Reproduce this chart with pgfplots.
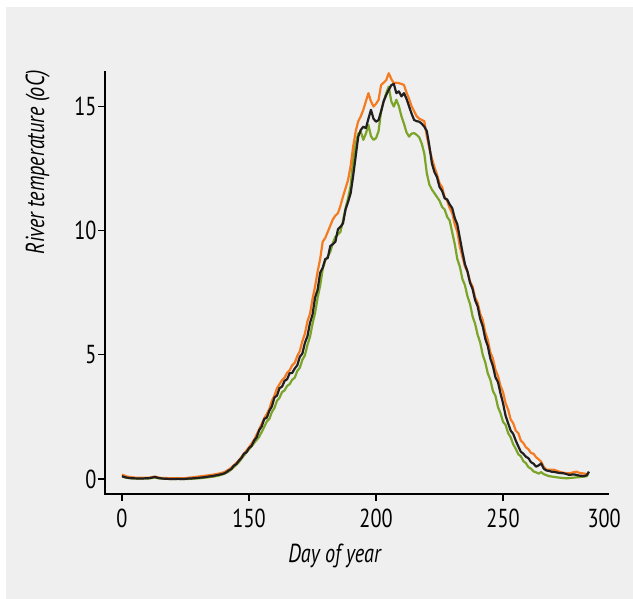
\documentclass[border=0pt]{standalone}
\usepackage{fontspec}
\setmainfont[FakeStretch=0.78]{PT Sans}
\usepackage{pgfplots}
\usepackage{pgfplotstable}
\pgfplotsset{compat=1.18}
\definecolor{bg}{HTML}{EFEFEF}
\definecolor{orng}{HTML}{F47B20}
\definecolor{grn}{HTML}{7BA428}
\definecolor{blk}{HTML}{231F20}
\newcommand{\lblfont}{\fontsize{26}{30}\selectfont}

\pgfplotstableread{
day T
100 0.12
101 0.08
103 0.04
105 0.03
107 0.02
109 0.03
111 0.04
113 0.09
114 0.05
116 0.02
118 0.01
120 0.0
122 0.01
124 0.0
126 0.02
128 0.03
130 0.05
132 0.07
134 0.10
136 0.13
138 0.17
140 0.22
141 0.27
142 0.35
143 0.40
144 0.54
145 0.60
146 0.74
147 0.85
148 1.02
149 1.08
150 1.25
151 1.33
152 1.55
153 1.68
154 1.97
155 2.12
156 2.42
157 2.47
158 2.75
159 2.92
160 3.28
161 3.36
162 3.66
163 3.72
164 3.95
165 4.02
166 4.26
167 4.27
168 4.45
169 4.58
170 4.92
171 5.05
172 5.48
173 5.75
174 6.28
175 6.62
176 7.30
177 7.62
178 8.30
179 8.50
180 8.85
181 8.90
182 9.38
183 9.45
184 9.55
185 10.05
186 10.15
187 10.29
188 10.85
189 11.15
190 11.5
191 12.2
192 13.0
193 13.78
194 14.05
195 14.18
196 14.12
197 14.5
198 14.86
199 14.5
200 14.38
201 14.45
202 14.8
203 15.2
204 15.45
205 15.66
206 15.85
207 15.9
208 15.53
209 15.6
210 15.4
211 15.53
212 15.3
213 15.0
214 14.7
215 14.45
216 14.4
217 14.38
218 14.3
219 14.18
220 14.0
221 13.4
222 12.7
223 12.35
224 12.15
225 11.75
226 11.6
227 11.3
228 11.25
229 11.05
230 10.9
231 10.5
232 10.25
233 9.7
234 9.15
235 8.65
236 8.35
237 7.9
238 7.65
239 7.2
240 6.95
241 6.45
242 6.15
243 5.65
244 5.35
245 4.85
246 4.55
247 4.1
248 3.9
249 3.45
250 3.05
251 2.55
252 2.25
253 1.95
254 1.82
255 1.55
256 1.32
257 1.1
258 1.02
259 0.9
260 0.84
261 0.68
262 0.62
263 0.5
264 0.55
265 0.63
266 0.42
267 0.35
268 0.33
269 0.30
270 0.29
272 0.25
274 0.23
276 0.17
278 0.19
280 0.14
282 0.12
283 0.16
283.8 0.3
}\blackdata

\pgfplotstableread{
day T
100 0.18
102 0.1
105 0.06
110 0.05
113 0.1
115 0.05
120 0.03
125 0.04
130 0.10
133 0.14
136 0.18
138 0.22
140 0.27
142 0.38
144 0.55
146 0.75
148 1.02
150 1.28
152 1.58
154 2.0
156 2.45
157 2.62
158 2.82
159 3.15
160 3.36
161 3.65
162 3.82
163 3.98
164 4.08
165 4.28
166 4.38
167 4.58
168 4.68
169 4.95
170 5.15
171 5.55
172 5.85
173 6.35
174 6.65
175 7.25
176 7.75
177 8.35
178 8.85
179 9.55
180 9.7
181 9.95
182 10.2
183 10.45
184 10.6
185 10.7
186 11.0
187 11.37
188 11.7
189 12.04
190 12.6
191 13.38
192 14.0
193 14.4
194 14.6
195 14.86
196 15.2
197 15.53
198 15.2
199 14.99
200 15.1
201 15.26
202 15.86
203 15.95
204 16.05
205 16.33
206 16.1
207 15.93
208 15.95
209 15.93
210 15.9
211 15.86
212 15.55
213 15.3
214 15.0
215 14.8
216 14.6
217 14.5
218 14.45
219 14.4
220 13.8
221 13.3
222 12.9
223 12.55
224 12.25
225 11.9
226 11.75
227 11.35
228 11.2
229 10.9
230 10.7
231 10.25
232 9.95
233 9.35
234 8.95
235 8.55
236 8.35
237 7.95
238 7.75
239 7.3
240 7.1
241 6.65
242 6.4
243 5.9
244 5.6
245 5.1
246 4.85
247 4.4
248 4.15
249 3.75
250 3.5
251 3.05
252 2.8
253 2.4
254 2.25
255 1.95
256 1.85
257 1.55
258 1.45
259 1.28
260 1.2
261 1.05
262 1.02
263 0.88
264 0.8
265 0.7
266 0.5
267 0.38
268 0.38
270 0.38
272 0.3
274 0.25
276 0.23
278 0.28
279 0.3
280 0.25
282 0.22
283 0.2
}\orangedata

\pgfplotstableread{
day T
100 0.1
102 0.05
105 0.02
110 0.02
113 0.06
115 0.02
120 0.0
125 0.0
130 0.03
133 0.06
136 0.1
138 0.14
140 0.2
142 0.3
144 0.48
146 0.68
148 0.95
150 1.2
152 1.45
154 1.7
156 2.1
157 2.32
158 2.42
159 2.7
160 2.86
161 3.15
162 3.27
163 3.5
164 3.57
165 3.75
166 3.82
167 4.0
168 4.08
169 4.35
170 4.48
171 4.8
172 4.98
173 5.4
174 5.72
175 6.25
176 6.68
177 7.3
178 7.78
179 8.45
180 8.8
181 8.95
182 9.15
183 9.5
184 9.75
185 9.85
186 9.95
187 10.4
188 10.9
189 11.3
190 11.8
191 12.84
192 13.5
193 13.9
194 13.98
195 13.65
196 13.9
197 14.25
198 13.8
199 13.65
200 13.72
201 14.0
202 14.8
203 15.2
204 15.53
205 15.79
206 15.2
207 14.99
208 15.26
209 15.0
210 14.6
211 14.3
212 13.95
213 13.78
214 13.9
215 13.92
216 13.85
217 13.75
218 13.5
219 13.1
220 12.3
221 11.85
222 11.65
223 11.5
224 11.35
225 11.2
226 10.95
227 10.85
228 10.55
229 10.4
230 9.92
231 9.45
232 8.85
233 8.55
234 8.05
235 7.8
236 7.35
237 7.05
238 6.55
239 6.25
240 5.8
241 5.5
242 5.0
243 4.7
244 4.25
245 4.0
246 3.55
247 3.35
248 2.9
249 2.65
250 2.3
251 2.18
252 1.85
253 1.68
254 1.4
255 1.22
256 1.0
257 0.92
258 0.72
259 0.64
260 0.48
261 0.42
262 0.31
263 0.27
264 0.22
265 0.28
266 0.2
268 0.12
270 0.09
272 0.06
275 0.03
278 0.06
281 0.09
283 0.12
283.8 0.29
}\greendata

\begin{document}
\begin{tikzpicture}
\useasboundingbox (0pt,0pt) rectangle (633pt,-599pt);
\fill[white] (0pt,0pt) rectangle (633pt,-599pt);
\fill[bg] (6pt,-7pt) rectangle (633pt,-599pt);
\begin{axis}[
  at={(105pt,-494pt)}, anchor=south west,
  scale only axis, width=502.7pt, height=422pt,
  xmin=93.3, xmax=291.2, ymin=-0.6, ymax=16.38,
  axis x line*=bottom, axis y line*=left,
  xtick pos=bottom, ytick pos=left,
  axis line style={line width=2.2pt, black, line cap=rect},
  tick align=outside, major tick length=7pt,
  tick style={line width=1.2pt, black},
  xtick={100,150,200,250}, xticklabels={0,150,200,250},
  extra x ticks={289.8}, extra x tick labels={300},
  extra x tick style={major tick style={draw=none}},
  ytick={0,5,10,15}, yticklabels={0,5,10,15},
  ticklabel style={font=\lblfont, text=black},
  xticklabel style={yshift=-4pt},
  yticklabel style={xshift=2pt},
  xlabel={Day of year}, ylabel={River temperature (oC)},
  xlabel style={font=\lblfont\itshape, at={(axis description cs:0.4565,-0.1635)}, anchor=base},
  ylabel style={font=\lblfont\itshape, at={(axis description cs:-0.1213,1.0118)}, anchor=base east},
  clip=false,
]
\addplot[grn, line width=2.2pt, line join=round] table[x=day,y=T] {\greendata};
\addplot[orng, line width=2.2pt, line join=round] table[x=day,y=T] {\orangedata};
\addplot[blk, line width=2.2pt, line join=round] table[x=day,y=T] {\blackdata};
\end{axis}
\end{tikzpicture}
\end{document}
